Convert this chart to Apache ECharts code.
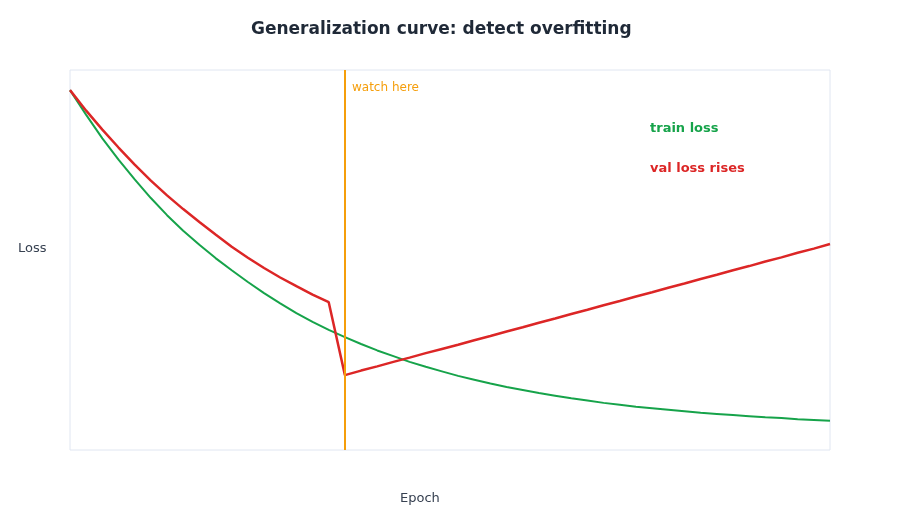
<!DOCTYPE html>
<html>
<head>
<meta charset="utf-8">
<script src="https://cdn.jsdelivr.net/npm/echarts@6/dist/echarts.min.js"></script>
<style>html,body{margin:0;padding:0;background:#fff}#c{width:900px;height:520px}</style>
</head>
<body>
<div id="c"></div>
<script>
var epochs = [];
for (var i = 0; i < 48; i++) epochs.push(i);
var trainLoss = [0.947,0.882,0.820,0.764,0.712,0.663,0.618,0.577,0.540,0.505,0.473,0.442,0.413,0.386,0.360,0.337,0.316,0.297,0.279,0.262,0.247,0.232,0.219,0.207,0.195,0.185,0.175,0.166,0.158,0.150,0.143,0.136,0.130,0.124,0.119,0.114,0.110,0.106,0.102,0.098,0.095,0.092,0.089,0.086,0.084,0.081,0.079,0.077];
var valLoss = [0.947,0.893,0.843,0.796,0.751,0.709,0.670,0.634,0.600,0.567,0.535,0.506,0.479,0.454,0.431,0.409,0.389,0.197,0.209,0.220,0.232,0.243,0.255,0.266,0.277,0.289,0.300,0.312,0.323,0.335,0.346,0.358,0.369,0.381,0.392,0.404,0.415,0.427,0.438,0.450,0.461,0.473,0.484,0.496,0.507,0.519,0.530,0.542];
var watchEpoch = 17;
var titleText = 'Generalization curve: detect overfitting';

function pairs(xs, ys){ return xs.map(function(x, k){ return [x, ys[k]]; }); }

var chart = echarts.init(document.getElementById('c'));
chart.setOption({
  animation: false,
  backgroundColor: '#ffffff',
  textStyle: { fontFamily: 'DejaVu Sans' },
  title: {
    text: titleText, left: 246, top: 16,
    textStyle: { fontSize: 17, fontWeight: 'bold', color: '#1f2937', fontFamily: 'DejaVu Sans' }
  },
  grid: { left: 70, right: 70, top: 70, bottom: 70, show: true, borderColor: '#e0e6f1', borderWidth: 1 },
  xAxis: {
    type: 'value', min: 0, max: 47,
    axisLine: { show: false }, axisTick: { show: false }, axisLabel: { show: false }, splitLine: { show: false }
  },
  yAxis: {
    type: 'value', min: 0, max: 1,
    axisLine: { show: false }, axisTick: { show: false }, axisLabel: { show: false }, splitLine: { show: false }
  },
  graphic: [
    { type: 'text', left: 18, top: 242, style: { text: 'Loss', fill: '#374151', font: '13px DejaVu Sans' } },
    { type: 'text', left: 400, top: 492, style: { text: 'Epoch', fill: '#374151', font: '13px DejaVu Sans' } },
    { type: 'text', left: 352, top: 82, style: { text: 'watch here', fill: '#f59e0b', font: '12px DejaVu Sans' } },
    { type: 'text', left: 650, top: 122, style: { text: 'train loss', fill: '#16a34a', font: 'bold 13px DejaVu Sans' } },
    { type: 'text', left: 650, top: 162, style: { text: 'val loss rises', fill: '#dc2626', font: 'bold 13px DejaVu Sans' } }
  ],
  series: [
    {
      type: 'line', name: 'train', data: pairs(epochs, trainLoss), showSymbol: false, symbol: 'none',
      lineStyle: { color: '#16a34a', width: 2 }, itemStyle: { color: '#16a34a' }
    },
    {
      type: 'line', name: 'val', data: pairs(epochs, valLoss), showSymbol: false, symbol: 'none',
      lineStyle: { color: '#dc2626', width: 2.5 }, itemStyle: { color: '#dc2626' },
      markLine: {
        silent: true, symbol: 'none', label: { show: false },
        lineStyle: { color: '#f59e0b', width: 2, type: 'solid' },
        data: [{ xAxis: watchEpoch }]
      }
    }
  ]
});
</script>
</body>
</html>
